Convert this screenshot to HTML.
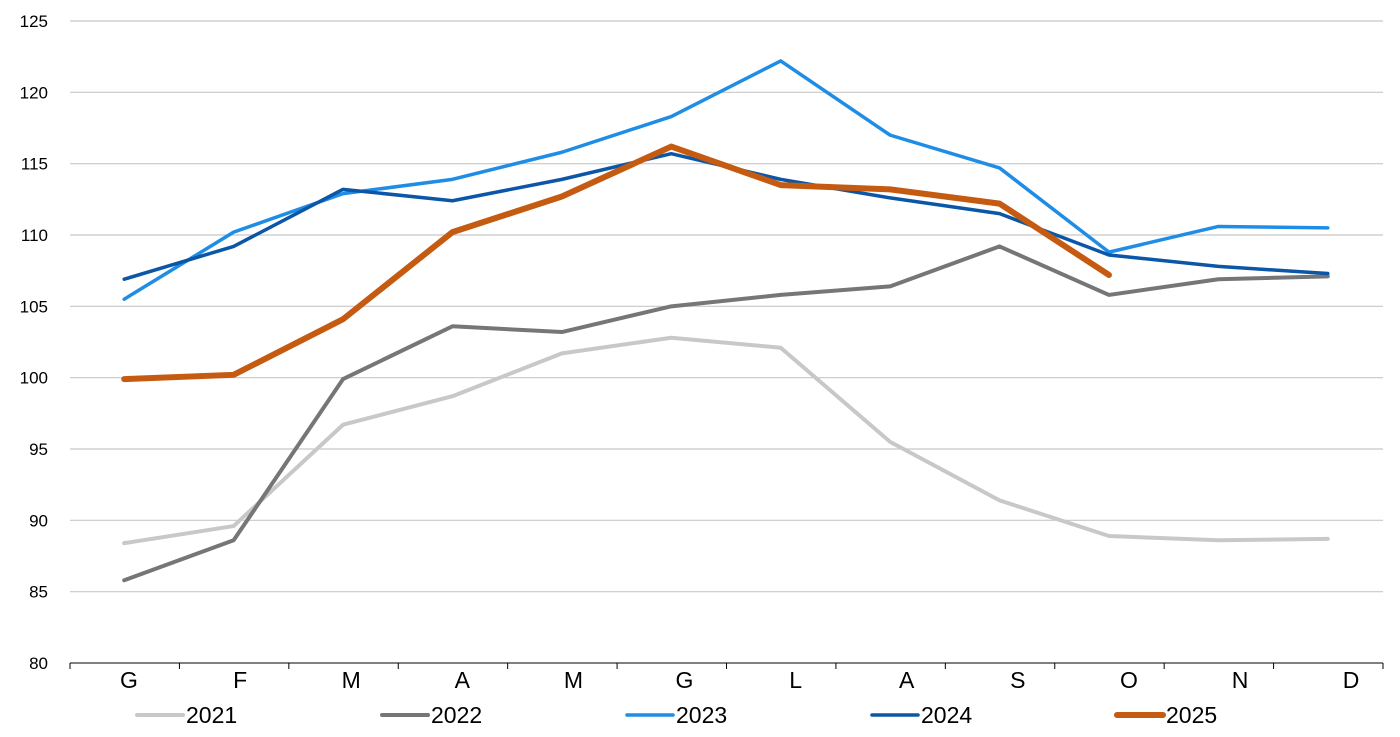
<!DOCTYPE html>
<html><head><meta charset="utf-8"><style>
body{margin:0;background:#fff;}
svg{display:block;font-family:"Liberation Sans",Arial,sans-serif;}
</style></head><body>
<svg id="c" width="1400" height="737" viewBox="0 0 1400 737" xmlns="http://www.w3.org/2000/svg">
<g id="grid"></g>
<g id="series"></g>
<g id="legend"></g>
</svg>
<script>
const NS="http://www.w3.org/2000/svg";
const svg=document.getElementById('c');
function el(t,a,p,txt){const e=document.createElementNS(NS,t);for(const k in a)e.setAttribute(k,a[k]);if(txt!==undefined)e.textContent=txt;(p||svg).appendChild(e);return e;}
const g=document.getElementById('grid');
const Y=v=>663-(v-80)*(642/45);
for(let v=80;v<=125;v+=5){
  const y=Y(v);
  if(v>80) el('line',{x1:70,x2:1383,y1:y,y2:y,stroke:'#c8c8c8','stroke-width':1.2},g);
  el('text',{x:48,y:y+6,'text-anchor':'end','font-size':17,fill:'#000'},g,v);
}
el('line',{x1:70,x2:1383,y1:663,y2:663,stroke:'#000','stroke-width':1},g);
const step=(1383-70)/12;
for(let i=0;i<=12;i++){const x=70+i*step;el('line',{x1:x,x2:x,y1:663,y2:669,stroke:'#000','stroke-width':1},g);}
const months=['G','F','M','A','M','G','L','A','S','O','N','D'];
const X=i=>70+step*(i+0.5)-0.5;
months.forEach((m,i)=>el('text',{x:129+i*111.1,y:688,'text-anchor':'middle','font-size':23,fill:'#000'},g,m));
const data=[
 ['2021','#c8c8c8',4,[88.4,89.6,96.7,98.7,101.7,102.8,102.1,95.5,91.4,88.9,88.6,88.7]],
 ['2022','#767676',4,[85.8,88.6,99.9,103.6,103.2,105,105.8,106.4,109.2,105.8,106.9,107.1]],
 ['2023','#1f8de6',3.5,[105.5,110.2,112.9,113.9,115.8,118.3,122.2,117,114.7,108.8,110.6,110.5]],
 ['2024','#0b56a6',3.5,[106.9,109.2,113.2,112.4,113.9,115.7,113.9,112.6,111.5,108.6,107.8,107.3]],
 ['2025','#c55a11',6,[99.9,100.2,104.1,110.2,112.7,116.2,113.5,113.2,112.2,107.2]]
];
const s=document.getElementById('series'),lg=document.getElementById('legend');
const lx=[137,382,627,872,1117];
data.forEach((d,k)=>{
  el('polyline',{points:d[3].map((v,i)=>X(i)+','+Y(v)).join(' '),fill:'none',stroke:d[1],'stroke-width':d[2],'stroke-linejoin':'round','stroke-linecap':'round'},s);
  el('line',{x1:lx[k],x2:lx[k]+46,y1:715,y2:715,stroke:d[1],'stroke-width':d[2],'stroke-linecap':'round'},lg);
  el('text',{x:lx[k]+49,y:723,'font-size':23,fill:'#000'},lg,d[0]);
});
</script>
</body></html>
